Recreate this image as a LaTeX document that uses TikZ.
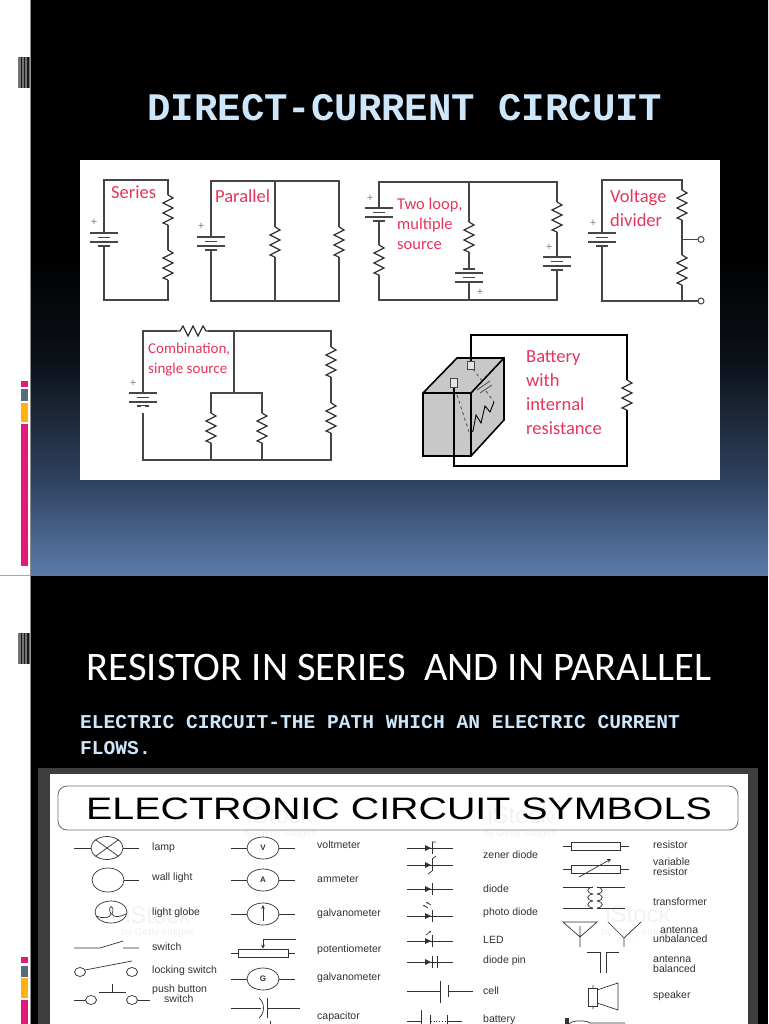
\documentclass[tikz,border=0pt]{standalone}
\usepackage{fontspec}
\setmainfont{Carlito}
\newfontfamily\slidemono{Liberation Mono}
\newfontfamily\symfont{Liberation Sans}
\usetikzlibrary{arrows.meta, shapes.geometric}
\definecolor{titleblue}{RGB}{205,230,250}
\definecolor{labelred}{RGB}{232,52,92}
\definecolor{wiregray}{RGB}{70,70,70}
\definecolor{symgray}{RGB}{50,50,50}
\definecolor{barpink}{RGB}{228,24,120}
\definecolor{barslate}{RGB}{88,106,128}
\definecolor{baramber}{RGB}{255,178,16}
\definecolor{boxgray}{RGB}{200,200,200}
\definecolor{framegray}{RGB}{62,62,62}
\definecolor{fadea}{RGB}{91,123,172}
\definecolor{fadeb}{RGB}{47,66,96}
\definecolor{fadec}{RGB}{12,17,25}
\pgfdeclareverticalshading{slidefade}{100bp}{
  color(0bp)=(fadea);
  color(25bp)=(fadea);
  color(33.3bp)=(fadeb);
  color(43.7bp)=(fadec);
  color(53bp)=(black);
  color(100bp)=(black)}
\begin{document}
\begin{tikzpicture}[x=1pt, y=-1pt,
    wire/.style={draw=wiregray, line width=1.3pt},
    sym/.style={draw=symgray, line width=0.7pt},
    cirlabel/.style={text=labelred, anchor=west, align=left, inner sep=0pt, font=\fontsize{18.5}{24}\selectfont},
    plus/.style={text=gray, inner sep=0pt, font=\symfont\fontsize{11}{11}\selectfont},
    symlabel/.style={text=symgray, anchor=west, inner sep=0pt, font=\symfont\fontsize{10.5}{11}\selectfont},
    stocktext/.style={text=black!5, inner sep=0pt, font=\symfont\fontsize{24}{24}\selectfont},
    stocksub/.style={text=black!6, inner sep=0pt, font=\symfont\fontsize{10}{10}\selectfont},
    meter/.style={draw=symgray, line width=0.7pt, shape=ellipse, fill=white, minimum width=32pt, minimum height=22pt, inner sep=0pt, font=\symfont\bfseries\fontsize{8}{8}\selectfont, text=symgray},
    resv/.pic={\fill[white] (-2,0) rectangle (2,30);
      \draw[black!80, line width=1.2pt] (0,0) -- (5,3) -- (-5,8) -- (5,13) -- (-5,18) -- (5,23) -- (-5,28) -- (0,30);},
    batt/.pic={\fill[white] (-3,0) rectangle (3,13);
      \draw[wiregray, line width=1.8pt] (-14,0) -- (14,0) (-14,9) -- (14,9);
      \draw[wiregray, line width=1.8pt] (-6,4.5) -- (6,4.5) (-6,13) -- (6,13);},
    diode/.pic={\draw[sym] (-23,0) -- (23,0);
      \fill[symgray] (-5,-3) -- (1,0) -- (-5,3) -- cycle;
      \draw[sym] (2,-6) -- (2,6);},
    coil/.pic={\foreach \k in {0,7,14} \draw[sym] (0,\k) .. controls (-7,\k+1) and (-7,\k+6) .. (0,\k+7);}
]
  \useasboundingbox (0,0) rectangle (768,1024);
  \fill[white] (0,0) rectangle (768,1024);

  % slide backgrounds
  \shade[shading=slidefade] (30,0) rectangle (768,576);
  \fill[black] (30,576) rectangle (768,1024);
  \draw[black!35, line width=0.7pt] (0,575.5) -- (30,575.5);
  \draw[black!45, line width=0.7pt] (30,0) -- (30,1024);

  % binder marks and side bars
  \foreach \y in {57,633} {
    \fill[black!55] (18,\y) rectangle (30,\y+31);
    \foreach \x in {20.5,23.5,27} \fill[black!90] (\x,\y) rectangle (\x+1.5,\y+31);
  }
  \foreach \y/\h/\c in {381/6/barpink,389/12/barslate,403/19/baramber,424/142/barpink,
                        957/6/barpink,966/11/barslate,978/20/baramber,1000/24/barpink}
    \fill[\c] (21,\y) rectangle (28,\y+\h);

  \node[name=title, text=titleblue, font=\slidemono\bfseries\fontsize{39}{39}\selectfont, inner sep=0pt] at(405,108) {DIRECT-CURRENT CIRCUIT};
  \node[name=subtitle, text=white, font=\fontsize{40.5}{40.5}\selectfont, inner sep=0pt] at(399,667) {RESISTOR IN SERIES~ AND IN PARALLEL};
  \node[name=pathline, text=titleblue, anchor=west, font=\slidemono\bfseries\fontsize{19.6}{19.6}\selectfont, inner sep=0pt] at(80,722) {ELECTRIC CIRCUIT-THE PATH WHICH AN ELECTRIC CURRENT};
  \node[name=flowsline, text=titleblue, anchor=west, font=\slidemono\bfseries\fontsize{19.6}{19.6}\selectfont, inner sep=0pt] at(80,748) {FLOWS.};

  % upper picture
  \fill[white] (80,160) rectangle (720,480);

  % series
  \draw[wire] (104,180) rectangle (168,300);
  \pic at (168,195) {resv};
  \pic at (168,250) {resv};
  \pic at (104,233) {batt};
  \node[cirlabel, name=seriestxt] at(111,192) {Series};
  % parallel
  \draw[wire] (211,181) rectangle (339,301);
  \draw[wire] (275,181) -- (275,301);
  \pic at (275,227) {resv};
  \pic at (339,227) {resv};
  \pic at (211,237) {batt};
  \node[cirlabel, name=paralleltxt] at(215,196) {Parallel};
  % two loop
  \draw[wire] (379,182) rectangle (557,300);
  \draw[wire] (469,182) -- (469,300);
  \pic at (379,245) {resv};
  \pic at (469,222) {resv};
  \pic at (557,202) {resv};
  \pic at (379,208) {batt};
  \pic[rotate=180] at (469,282) {batt};
  \pic at (557,257) {batt};
  \node[cirlabel, font=\fontsize{16.5}{20}\selectfont, name=twolooptxt] at(397,224) {Two loop,\\multiple\\source};
  % voltage divider
  \draw[wire] (698,301) -- (602,301) -- (602,180) -- (682,180) -- (682,301);
  \draw[wire] (682,239.5) -- (698,239.5);
  \pic at (682,190) {resv};
  \pic at (682,255) {resv};
  \pic at (602,233) {batt};
  \node[cirlabel, name=dividertxt] at(610,208) {Voltage\\divider};
  \node[draw=wiregray, line width=1pt, shape=circle, minimum size=6pt, inner sep=0pt, name=tapa] at(701,239.5) {};
  \node[draw=wiregray, line width=1pt, shape=circle, minimum size=6pt, inner sep=0pt, name=tapb] at(701,301) {};
  % combination
  \draw[wire] (143,331) rectangle (331,460);
  \draw[wire] (234,331) -- (234,393);
  \draw[wire] (211,460) -- (211,393) -- (262,393) -- (262,460);
  \fill[white] (177,329) rectangle (208,333);
  \draw[black!80, line width=1.2pt] (177,331) -- (180,331) -- (183,326) -- (188,336) -- (193,326) -- (198,336) -- (203,326) -- (206,331) -- (208,331);
  \pic at (211,413) {resv};
  \pic at (262,413) {resv};
  \pic at (331,347) {resv};
  \pic at (331,403) {resv};
  \pic at (143,393) {batt};
  \fill[white] (141,406) rectangle (145,413);
  \node[cirlabel, font=\fontsize{15}{20}\selectfont, name=combitxt] at(148,360) {Combination,\\single source};
  % battery with internal resistance
  \draw[black, line width=1.6pt, fill=boxgray] (423,393) -- (457,358) -- (504,358) -- (504,420) -- (471,456) -- (423,456) -- cycle;
  \draw[black, line width=1.6pt] (423,393) -- (471,393) -- (504,358) (471,393) -- (471,456);
  \draw[black!70, dashed, line width=0.8pt] (473,369) -- (482,381);
  \draw[black!70, line width=0.8pt] (477,390) -- (490,381) (480,393) -- (492,385);
  \draw[black!70, line width=0.8pt, dashed] (486,391) -- (494,402);
  \draw[black, line width=0.9pt] (494,402) -- (490,412) -- (485,406) -- (481,423) -- (476,415) -- (473,431) -- (470,433);
  \draw[black!70, dashed, line width=0.8pt] (457,395) -- (470,435);
  \draw[black, line width=1.2pt] (471,361) -- (471,335) -- (627,335) -- (627,466) -- (454,466) -- (454,388);
  \pic at (627,380) {resv};
  \node[draw=wiregray, fill=boxgray!50, line width=1pt, minimum width=7pt, minimum height=8pt, inner sep=0pt, name=termb] at(471,365) {};
  \node[draw=wiregray, fill=boxgray!50, line width=1pt, minimum width=7pt, minimum height=9pt, inner sep=0pt, name=terma] at(454,383) {};
  \node[cirlabel, name=internaltxt] at(526,393) {Battery\\with\\internal\\resistance};

  \foreach \x/\y [count=\i] in {94/222,201/226,370/198,480/292,549/247,593/223,133/383}
    \node[plus, name=plus\i] at(\x,\y) {+};

  % symbol chart
  \fill[framegray] (38,768) rectangle (758,1024);
  \fill[white] (50,773.5) rectangle (748,1024);
  \foreach \x/\y [count=\i] in {158/915,280/815,520/815,638/914}
    \node[stocktext, name=stock\i] at(\x,\y) {iStock};
  \foreach \x/\y [count=\i] in {158/933,280/834,520/834,638/933}
    \node[stocksub, name=getty\i] at(\x,\y) {by Getty Images};

  \draw[black!55, line width=0.9pt, rounded corners=9pt] (58,786) rectangle (738,830);
  \node[name=charthead, text=black, font=\symfont\fontsize{31}{31}\selectfont, inner sep=0pt] at(399,809) {\scalebox{1.27}[1]{ELECTRONIC CIRCUIT SYMBOLS}};

  % first column
  \draw[sym] (74,848) -- (91,848) (123,848) -- (139,848);
  \node[meter, minimum width=32pt, minimum height=23pt, name=lamp] at(107,848) {};
  \draw[sym] (lamp.north west) -- (lamp.south east) (lamp.south west) -- (lamp.north east);
  \node[meter, minimum height=24pt, name=wall] at(108,880) {};
  \draw[sym] (wall.east) -- (139,880);
  \node[meter, minimum height=22pt, name=globe] at(111,912) {};
  \draw[sym] (96,916) .. controls (104,919) and (110,918) .. (111,914) .. controls (106,904) and (116,904) .. (112,914) .. controls (114,918) and (120,917) .. (126,914);
  \draw[sym] (74,948) -- (100,948) -- (123,941) (123,948) -- (139,948);
  \node[meter, minimum width=11pt, minimum height=9pt, name=locka] at(80,972) {};
  \node[meter, minimum width=11pt, minimum height=9pt, name=lockb] at(132,972) {};
  \draw[sym] (locka) ++(5,-2) -- (132,961);
  \node[meter, minimum width=11pt, minimum height=9pt, name=pusha] at(91,1000) {};
  \node[meter, minimum width=11pt, minimum height=9pt, name=pushb] at(132,1000) {};
  \draw[sym] (74,1000) -- (pusha.west) (pushb.east) -- (150,1000) (99,992) -- (126,992) (112,992) -- (112,984);
  \foreach \y/\t [count=\i] in {848/lamp,878/wall light,913/light globe,947/switch,971/locking switch,990/push button}
    \node[symlabel, name=cola\i] at(152,\y) {\t};
  \node[symlabel, name=colb] at(164,999) {switch};

  % second column
  \foreach \y/\t [count=\i] in {848/V,880/A,914/,979/G} {
    \node[meter, name=mtr\i] at(263,\y) {\t};
    \draw[sym] (231,\y) -- (mtr\i.west) (mtr\i.east) -- (295,\y);
  }
  \draw[sym, -{Stealth[length=4pt,width=3.5pt]}] (263,921) -- (263,905);
  \node[draw=symgray, line width=0.7pt, fill=white, minimum width=50pt, minimum height=8pt, inner sep=0pt, name=pot] at(263,953) {};
  \draw[sym] (231,953) -- (pot.west) (pot.east) -- (295,953);
  \draw[sym, -{Stealth[length=4pt,width=4pt]}] (296,939) -- (263,939) -- (pot.north);
  \draw[sym] (231,1008) -- (261,1008) (267,1008) -- (300,1008) (267,998) -- (267,1018);
  \draw[sym] (259,998) .. controls (265,1003) and (265,1013) .. (259,1018);
  \draw[sym] (270,1021) -- (270,1024);
  \foreach \y/\t [count=\i] in {845/voltmeter,879/ammeter,914/galvanometer,950/potentiometer,978/galvanometer,1017/capacitor}
    \node[symlabel, name=colc\i] at(317,\y) {\t};

  % third column
  \foreach \y in {848,865,889,916,941,962} \pic at (430,\y) {diode};
  \draw[sym] (432,842) -- (436,842) (432,871) -- (428,874) (432,859) -- (436,856);
  \draw[sym, -{Stealth[length=2pt,width=2pt]}] (428,908) -- (423,905);
  \draw[sym, -{Stealth[length=2pt,width=2pt]}] (431,905) -- (426,902);
  \draw[sym, -{Stealth[length=2pt,width=2pt]}] (426,935) -- (431,931);
  \draw[sym] (437,956) -- (437,968);
  \draw[sym] (407,991) -- (440,991) (440,981) -- (440,1003) (448,985) -- (448,997) (448,991) -- (473,991);
  \draw[sym] (407,1021) -- (421,1021) (421,1010) -- (421,1024) (430,1015) -- (430,1024) (447,1015) -- (447,1024) (447,1021) -- (462,1021);
  \draw[sym, dotted] (431,1021) -- (447,1021);
  \foreach \y/\t [count=\i] in {855/zener diode,889/diode,913/photo diode,940/LED,961/diode pin,991/cell,1020/battery}
    \node[symlabel, name=cold\i] at(483,\y) {\t};

  % fourth column
  \foreach \y/\t in {846/resa,869.5/resb} {
    \node[draw=symgray, line width=0.7pt, fill=white, minimum width=49pt, minimum height=8pt, inner sep=0pt, name=\t] at(595.5,\y) {};
    \draw[sym] (563,\y) -- (\t.west) (\t.east) -- (629,\y);
  }
  \draw[sym, -{Stealth[length=4pt,width=4pt]}] (579,877) -- (611,859);
  \draw[sym] (563,887) -- (593,887) (563,908) -- (593,908) (597,887) -- (625,887) (597,908) -- (625,908);
  \pic at (593,887) {coil};
  \pic[xscale=-1] at (597,887) {coil};
  \draw[sym] (563,922) -- (597,922) -- (580,937) -- cycle (580,926) -- (580,947);
  \draw[sym] (608,922) -- (624,938) -- (641,922) (624,938) -- (624,947);
  \draw[sym] (587,952) -- (600,952) -- (600,973) (606,973) -- (606,952) -- (619,952);
  \draw[sym] (588,988) rectangle (597,1006);
  \draw[sym] (597,990) -- (618,983) -- (618,1010) -- (597,1003) (593,985) -- (593,988) (593,1006) -- (593,1009);
  \fill[symgray] (565,1018) rectangle (569,1024);
  \draw[sym] (569,1024) .. controls (572,1020) and (586,1020) .. (590,1023) -- (625,1023);
  \foreach \y/\t [count=\i] in {845/resistor,862/variable,872/resistor,902/transformer,939/unbalanced,959/antenna,968.5/balanced,996/speaker}
    \node[symlabel, name=cole\i] at(653,\y) {\t};
  \node[symlabel, name=colf] at(660,930) {antenna};
\end{tikzpicture}
\end{document}
